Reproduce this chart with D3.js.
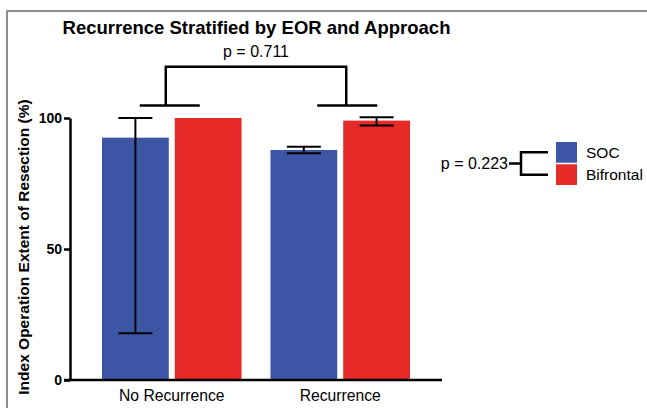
<!DOCTYPE html>
<html>
<head>
<meta charset="utf-8">
<script src="https://cdn.jsdelivr.net/npm/d3@7"></script>
<style>
  body { margin: 0; background: #fff; }
  svg { display: block; font-family: "Liberation Sans", Arial, Helvetica, sans-serif; }
</style>
</head>
<body>
<svg id="chart" width="647" height="408"></svg>
<script>
// Data
const groups = ["No Recurrence", "Recurrence"];
const series = ["SOC", "Bifrontal"];
const socMean = [92.5, 87.8];
const socLow = [17.8, 86.5];
const socHigh = [100, 89.0];
const bifMean = [100, 99.0];
const bifLow = [100, 97.1];
const bifHigh = [100, 100.3];
const yTicks = [0, 50, 100];
const colors = ["#3c55a5", "#e52a27"];
const groupP = "p = 0.711";
const seriesP = "p = 0.223";
const title = "Recurrence Stratified by EOR and Approach";
const yLabel = "Index Operation Extent of Resection (%)";

const svg = d3.select("#chart");

// gray frame (top and left edges only)
svg.append("path")
  .attr("d", "M7,408V11H647")
  .attr("fill", "none")
  .attr("stroke", "#8f8f8f")
  .attr("stroke-width", 2);

// Scales
const y = d3.scaleLinear().domain([0, 100]).range([380, 118]);
const x = d3.scaleBand().domain(groups).range([102, 410]).paddingInner(29 / 169);
const xs = d3.scaleBand().domain(series).range([0, x.bandwidth()]).paddingInner(6 / 73);

// rows for bars
const rows = [];
groups.forEach((g, i) => {
  rows.push({ g, s: "SOC", mean: socMean[i], lo: socLow[i], hi: socHigh[i], c: colors[0] });
  rows.push({ g, s: "Bifrontal", mean: bifMean[i], lo: bifLow[i], hi: bifHigh[i], c: colors[1] });
});

// Bars
svg.selectAll(".bar")
  .data(rows)
  .enter()
  .append("rect")
  .attr("class", "bar")
  .attr("x", d => x(d.g) + xs(d.s))
  .attr("y", d => y(d.mean))
  .attr("width", xs.bandwidth())
  .attr("height", d => y(0) - y(d.mean))
  .attr("fill", d => d.c);

// Error bars (skip when there is no spread)
const errRows = rows.filter(d => d.hi - d.lo > 0.01);
const capHalf = 17;
const err = svg.selectAll(".err").data(errRows).enter().append("g").attr("class", "err")
  .attr("stroke", "#000").attr("stroke-width", 2);
err.append("line")
  .attr("x1", d => x(d.g) + xs(d.s) + xs.bandwidth() / 2)
  .attr("x2", d => x(d.g) + xs(d.s) + xs.bandwidth() / 2)
  .attr("y1", d => y(d.lo))
  .attr("y2", d => y(d.hi));
err.selectAll(".cap")
  .data(d => [d.lo, d.hi].map(v => ({ v, cx: x(d.g) + xs(d.s) + xs.bandwidth() / 2 })))
  .enter()
  .append("line")
  .attr("x1", d => d.cx - capHalf)
  .attr("x2", d => d.cx + capHalf)
  .attr("y1", d => y(d.v))
  .attr("y2", d => y(d.v));

// Y axis
const yAxis = svg.append("g")
  .attr("transform", "translate(70,0)")
  .call(d3.axisLeft(y).tickValues(yTicks).tickSize(6).tickSizeOuter(0).tickPadding(2));
yAxis.select(".domain").attr("stroke", "#000").attr("stroke-width", 2.5);
yAxis.selectAll(".tick line").attr("stroke", "#000").attr("stroke-width", 2.5);
yAxis.selectAll(".tick text")
  .attr("fill", "#000")
  .style("font-size", "14px")
  .style("font-weight", "bold")
  .style("font-family", "'Liberation Sans', Arial, sans-serif");

// X axis line and labels
svg.append("line")
  .attr("x1", 64).attr("x2", 442)
  .attr("y1", y(0)).attr("y2", y(0))
  .attr("stroke", "#000").attr("stroke-width", 2.5);
const xAxis = svg.append("g")
  .attr("transform", `translate(0,${y(0)})`)
  .call(d3.axisBottom(x).tickSize(0).tickPadding(10));
xAxis.select(".domain").remove();
xAxis.selectAll(".tick text")
  .attr("fill", "#000")
  .style("font-size", "15.7px")
  .style("font-family", "'Liberation Sans', Arial, sans-serif");

// Title
svg.append("text")
  .attr("x", 256.5).attr("y", 34)
  .attr("text-anchor", "middle")
  .style("font-size", "18.5px")
  .style("font-weight", "bold")
  .text(title);

// Y label
svg.append("text")
  .attr("transform", "translate(29,247) rotate(-90)")
  .attr("text-anchor", "middle")
  .style("font-size", "15.5px")
  .style("font-weight", "bold")
  .text(yLabel);

// Bracket between groups
const gc = groups.map(g => x(g) + x.bandwidth() / 2);
const vx = [gc[0] - 6, gc[1] + 6];
const yLow = y(104.8), yHigh = y(119.6);
const br = svg.append("g").attr("stroke", "#000").attr("stroke-width", 2.5).attr("fill", "none");
br.append("path").attr("d", `M${vx[0]},${yLow}V${yHigh}H${vx[1]}V${yLow}`);
br.append("line").attr("x1", vx[0] - 26).attr("x2", vx[0] + 34).attr("y1", yLow).attr("y2", yLow);
br.append("line").attr("x1", vx[1] - 29).attr("x2", vx[1] + 31).attr("y1", yLow).attr("y2", yLow);
svg.append("text")
  .attr("x", (vx[0] + vx[1]) / 2).attr("y", 57)
  .attr("text-anchor", "middle")
  .style("font-size", "16px")
  .text(groupP);

// Legend with series bracket
const ly = d3.scaleBand().domain(series).range([142, 185]).paddingInner(0.07);
svg.selectAll(".sw")
  .data(series)
  .enter()
  .append("rect")
  .attr("class", "sw")
  .attr("x", 556)
  .attr("y", d => ly(d))
  .attr("width", 21)
  .attr("height", ly.bandwidth())
  .attr("fill", (d, i) => colors[i]);
svg.selectAll(".lt")
  .data(series)
  .enter()
  .append("text")
  .attr("class", "lt")
  .attr("x", 586)
  .attr("y", d => ly(d) + ly.bandwidth() / 2 + 5.5)
  .style("font-size", "15.5px")
  .text(d => d);

const lb = svg.append("g").attr("stroke", "#000").attr("stroke-width", 2.5).attr("fill", "none");
const ys = series.map(s => ly(s) + ly.bandwidth() / 2);
lb.append("path").attr("d", `M548,${ys[0]}H521V${ys[1]}H548`);
lb.append("line").attr("x1", 509).attr("x2", 521).attr("y1", (ys[0] + ys[1]) / 2).attr("y2", (ys[0] + ys[1]) / 2);
svg.append("text")
  .attr("x", 508).attr("y", (ys[0] + ys[1]) / 2 + 5.5)
  .attr("text-anchor", "end")
  .style("font-size", "16px")
  .text(seriesP);
</script>
</body>
</html>
